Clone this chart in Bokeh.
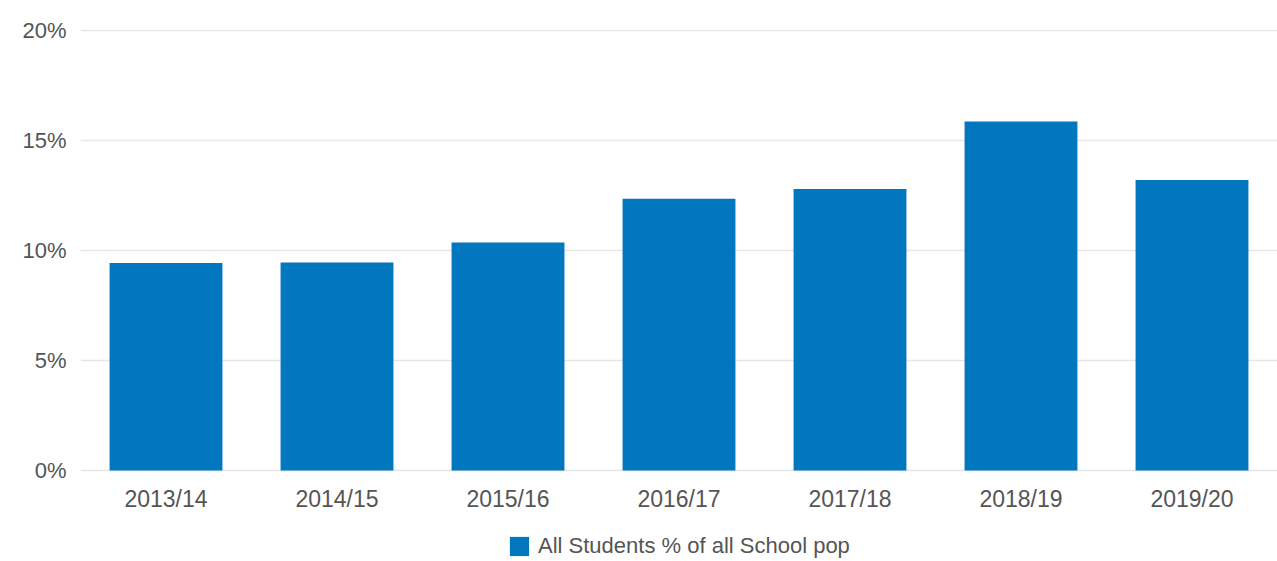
from bokeh.plotting import figure
from bokeh.models import Range1d, Legend, LegendItem, CustomJSTickFormatter, ColumnDataSource
from bokeh.core.properties import value
from bokeh.embed import file_html
from bokeh.resources import INLINE

years = ["2013/14", "2014/15", "2015/16", "2016/17", "2017/18", "2018/19", "2019/20"]
pct_students = [9.43, 9.46, 10.37, 12.36, 12.80, 15.87, 13.21]
y_ticks = [0, 5, 10, 15, 20]
series_name = "All Students % of all School pop"

FONT = "Liberation Sans"
TEXT_COLOR = "#555555"

# frame spans to the bottom of the page; the area below 0% holds the category labels and legend
Y_TOP = 20.05
PLOT_PX = 441.0
BOTTOM_PX = 91.0
y_bottom = -BOTTOM_PX / PLOT_PX * Y_TOP

src = ColumnDataSource(dict(year=years, val=pct_students, base=[0] * len(years)))

p = figure(x_range=years, y_range=Range1d(y_bottom, Y_TOP),
           frame_width=1197, frame_height=int(PLOT_PX + BOTTOM_PX),
           output_backend="svg", toolbar_location=None,
           min_border_left=80, min_border_right=0, min_border_top=29, min_border_bottom=0)
p.outline_line_color = None
p.background_fill_color = "white"
p.border_fill_color = "white"

r = p.vbar(x="year", top="val", bottom="base", width=0.66, source=src,
           fill_color="#0077be", line_color=None)

p.xgrid.grid_line_color = None
p.ygrid.grid_line_color = "#e6e6e6"
p.ygrid.grid_line_width = 1.5

p.yaxis.ticker = y_ticks
p.yaxis.formatter = CustomJSTickFormatter(code="return tick + '%';")
ax = p.yaxis[0]
ax.axis_line_color = None
ax.major_tick_line_color = None
ax.minor_tick_line_color = None
ax.major_tick_out = 0
ax.major_tick_in = 0
ax.major_label_text_font = FONT
ax.major_label_text_font_size = "22px"
ax.major_label_text_color = TEXT_COLOR
ax.major_label_standoff = 14
p.xaxis.visible = False

# category labels under the bars
p.text(x="year", y="base", text="year", source=src, text_align="center",
       text_baseline="top", y_offset=15, text_font=value(FONT),
       text_font_size="23px", text_color=TEXT_COLOR)

legend = Legend(items=[LegendItem(label=series_name, renderers=[r])],
                location=(427, 2), orientation="horizontal",
                glyph_width=24, glyph_height=24, label_text_font=FONT,
                label_text_font_size="22px", label_text_color=TEXT_COLOR,
                border_line_color=None, background_fill_alpha=0,
                margin=0, padding=0, label_standoff=7)
p.add_layout(legend, "center")

open("out.html", "w").write(file_html(p, INLINE))
